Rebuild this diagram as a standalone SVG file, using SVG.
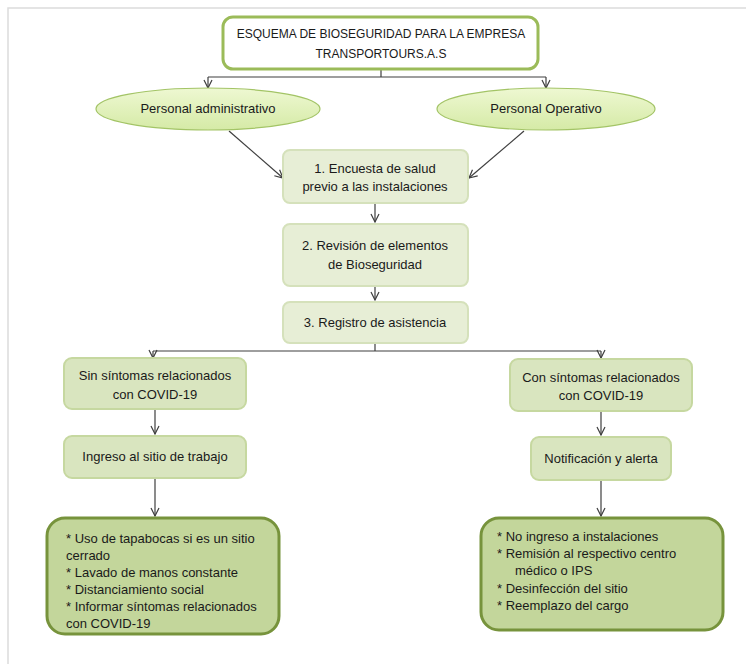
<svg xmlns="http://www.w3.org/2000/svg" width="746" height="664" viewBox="0 0 746 664">
<defs>
<style>
text{font-family:"Liberation Sans",Arial,sans-serif;font-size:13px;fill:#1a1a1a}
.t{font-size:12px}
.c{text-anchor:middle}
.conn{stroke:#3f3f3f;stroke-width:1.2;fill:none}
.step{fill:#e7eed6;stroke:#d5e1bb;stroke-width:2}
.mid{fill:#d9e5bf;stroke:#c6d8a0;stroke-width:2}
.big{fill:#c3d69b;stroke:#77933c;stroke-width:3}
.ell{fill:url(#eg);stroke:#a3c466;stroke-width:1.2}
</style>
<linearGradient id="eg" x1="0" y1="0" x2="0" y2="1">
<stop offset="0" stop-color="#eef8d2"/>
<stop offset="1" stop-color="#d5eaa6"/>
</linearGradient>
<marker id="ar" viewBox="0 0 10 10" refX="9" refY="5" markerWidth="10" markerHeight="10" markerUnits="userSpaceOnUse" orient="auto">
<path d="M1,1 L9,5 L1,9" fill="none" stroke="#3f3f3f" stroke-width="1.2"/>
</marker>
</defs>
<rect width="746" height="664" fill="#ffffff"/>
<path d="M8,664 V8 H746" fill="none" stroke="#dcdcdc" stroke-width="1.5"/>

<g id="connectors">
<path class="conn" d="M381,70 V77"/>
<path class="conn" d="M208,77 H546"/>
<path class="conn" d="M208,77 V88" marker-end="url(#ar)"/>
<path class="conn" d="M546,77 V88" marker-end="url(#ar)"/>
<path class="conn" d="M229,131 L283,178" marker-end="url(#ar)"/>
<path class="conn" d="M524,131 L469,178" marker-end="url(#ar)"/>
<path class="conn" d="M375,204 V222" marker-end="url(#ar)"/>
<path class="conn" d="M375,287 V300" marker-end="url(#ar)"/>
<path class="conn" d="M375,344 V351"/>
<path class="conn" d="M153,351 H601"/>
<path class="conn" d="M153,351 V358" marker-end="url(#ar)"/>
<path class="conn" d="M601,351 V358" marker-end="url(#ar)"/>
<path class="conn" d="M155,410 V434" marker-end="url(#ar)"/>
<path class="conn" d="M601,412 V435" marker-end="url(#ar)"/>
<path class="conn" d="M155,479 V516" marker-end="url(#ar)"/>
<path class="conn" d="M601,481 V516" marker-end="url(#ar)"/>
</g>

<g id="title">
<rect x="223" y="17" width="315" height="52" rx="10" fill="#ffffff" stroke="#9bbb59" stroke-width="3"/>
<text class="c t" x="381" y="38">ESQUEMA DE BIOSEGURIDAD PARA LA EMPRESA</text>
<text class="c t" x="381" y="58">TRANSPORTOURS.A.S</text>
</g>

<g id="admin">
<ellipse class="ell" cx="208" cy="109" rx="112" ry="21"/>
<text class="c" x="208" y="113">Personal administrativo</text>
</g>
<g id="operativo">
<ellipse class="ell" cx="546" cy="109" rx="109" ry="21"/>
<text class="c" x="546" y="113">Personal Operativo</text>
</g>

<g id="encuesta">
<rect class="step" x="283" y="150" width="185" height="53" rx="7"/>
<text class="c" x="375" y="173">1. Encuesta de salud</text>
<text class="c" x="375" y="191">previo a las instalaciones</text>
</g>
<g id="revision">
<rect class="step" x="283" y="224" width="185" height="62" rx="7"/>
<text class="c" x="375" y="250">2. Revisión de elementos</text>
<text class="c" x="375" y="269">de Bioseguridad</text>
</g>
<g id="registro">
<rect class="step" x="283" y="302" width="185" height="41" rx="7"/>
<text class="c" x="375" y="327">3. Registro de asistencia</text>
</g>

<g id="sin">
<rect class="mid" x="64" y="358" width="182" height="51" rx="8"/>
<text class="c" x="155" y="380">Sin síntomas relacionados</text>
<text class="c" x="155" y="399">con COVID-19</text>
</g>
<g id="ingreso">
<rect class="mid" x="64" y="436" width="182" height="42" rx="8"/>
<text class="c" x="155" y="461">Ingreso al sitio de trabajo</text>
</g>
<g id="con">
<rect class="mid" x="510" y="359" width="182" height="52" rx="8"/>
<text class="c" x="601" y="382">Con síntomas relacionados</text>
<text class="c" x="601" y="400">con COVID-19</text>
</g>
<g id="notificacion">
<rect class="mid" x="531" y="437" width="140" height="43" rx="8"/>
<text class="c" x="601" y="463">Notificación y alerta</text>
</g>

<g id="medidas-sin">
<rect class="big" x="47" y="518" width="232" height="116" rx="18"/>
<text x="66" y="543">* Uso de tapabocas si es un sitio</text>
<text x="66" y="560">cerrado</text>
<text x="66" y="577">* Lavado de manos constante</text>
<text x="66" y="594">* Distanciamiento social</text>
<text x="66" y="611">* Informar  síntomas relacionados</text>
<text x="66" y="628">con COVID-19</text>
</g>
<g id="medidas-con">
<rect class="big" x="481" y="518" width="242" height="112" rx="18"/>
<text x="497" y="541">* No ingreso a instalaciones</text>
<text x="497" y="558">* Remisión al respectivo centro</text>
<text x="515" y="575">médico o IPS</text>
<text x="497" y="593">* Desinfección del sitio</text>
<text x="497" y="610">* Reemplazo del cargo</text>
</g>
</svg>
